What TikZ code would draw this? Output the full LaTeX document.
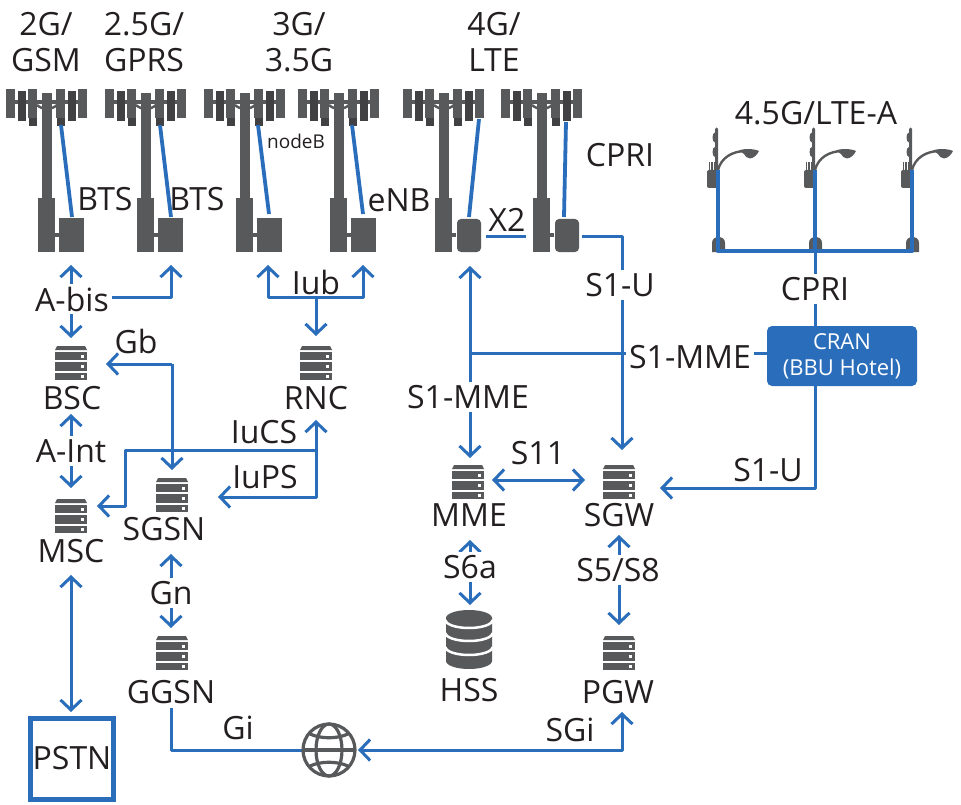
\documentclass[tikz,border=0pt]{standalone}
\usepackage{fontspec}
\setmainfont{Open Sans}
\usetikzlibrary{arrows.meta}
\definecolor{blu}{HTML}{2A6EBB}
\definecolor{gr}{HTML}{58595B}
\definecolor{dgr}{HTML}{414042}
\definecolor{txt}{HTML}{231F20}
\tikzset{
 wire/.style={draw=blu,line width=3pt,line join=round},
 tip/.style={-{Straight Barb[length=10pt,width=21pt,line width=3pt]}},
 tips/.style={{Straight Barb[length=10pt,width=21pt,line width=3pt]}-{Straight Barb[length=10pt,width=21pt,line width=3pt]}},
 tipr/.style={{Straight Barb[length=10pt,width=21pt,line width=3pt]}-},
 feeder/.style={draw=blu,line width=3.8pt},
 lab/.style={font=\fontsize{32}{32}\selectfont,text=txt,inner sep=0pt,outer sep=0pt},
 wlab/.style={lab,fill=white,inner sep=3pt},
}
\newcommand{\antenna}[2]{%
 \begin{scope}[shift={(#1,0)}]
 \fill[gr] (42,93) rectangle (52,200);
 \fill[gr] (38,198) rectangle (55,252);
 \fill[gr] (55,233) rectangle (59,237);
 \fill[gr] (15,100) rectangle (78,104);
 \draw[gr,line width=2.5pt] (37,105) .. controls (42,110) and (52,110) .. (57,105);
 \fill[dgr] (18,91) rectangle (26,121);
 \fill[dgr] (68,91) rectangle (76,121);
 \fill[dgr] (29,110) rectangle (37,126);
 \fill[dgr] (57,110) rectangle (65,126);
 \fill[gr] (6,89) rectangle (15,118);
 \fill[gr] (28,89) rectangle (37,118);
 \fill[gr] (56,89) rectangle (65,118);
 \fill[gr] (78,89) rectangle (87,118);
 #2
 \end{scope}}
\newcommand{\server}[3]{% name, x center, top y
 \begin{scope}[shift={(#2,#3)}]
 \coordinate (#1) at (0,16);
 \fill[gr] (-16,4) -- (-14,0) -- (14,0) -- (16,4) -- cycle;
 \fill[gr] (-16,5.5) rectangle (16,14);
 \fill[gr] (-16,16) rectangle (16,25);
 \fill[gr] (-16,26.5) rectangle (16,33.5);
 \foreach \yy in {10,20.5,30} \fill[white] (9.5,\yy-1.5) rectangle (12.5,\yy+1.5);
 \end{scope}}
\newcommand{\lamp}[1]{%
 \begin{scope}[shift={(#1,0)}]
 \fill[gr] (-3,129) -- (-1.5,127.5) -- (0,129) -- (0,170) -- (-3,170) -- cycle;
 \fill[gr] (-3,137.5) ellipse (2.5 and 5);
 \fill[gr] (-3,152) ellipse (2.5 and 5);
 \draw[gr,line width=1.2pt] (-8.5,170) -- (-8.5,162) (-6,170) -- (-6,162) (-3.5,170) -- (-3.5,162);
 \fill[gr,rounded corners=2pt] (-11,170) rectangle (1,188);
 \draw[gr,line width=2.4pt] (0,170) .. controls (3,158) and (14,151) .. (28,151);
 \fill[gr] (21,150.5) .. controls (25,148.5) and (36,148.5) .. (41,151) .. controls (39,155) and (36,158) .. (32,158.5) .. controls (29,158.5) and (27,156) .. (26,154) -- cycle;
 \fill[gr] (-6,252) -- (-6,243) .. controls (-6,239) and (-3,237) .. (0.5,237) .. controls (4,237) and (7,239) .. (7,243) -- (7,252) -- cycle;
 \end{scope}}
\begin{document}
\begin{tikzpicture}[x=1pt,y=-1pt]
\useasboundingbox (0,0) rectangle (961,805);
% generation labels
\node[lab,align=center] (g2) at (46,42) {2G/\\[4pt]GSM};
\node[lab,align=center] (g25) at (144,42) {2.5G/\\[4pt]GPRS};
\node[lab,align=center] (g3) at (299,42) {3G/\\[4pt]3.5G};
\node[lab,align=center] (g4) at (494,42) {4G/\\[4pt]LTE};
\node[lab] (g45) at (816,113) {4.5G/LTE-A};
% towers
\antenna{0}{\fill[gr] (59,218) rectangle (84,252);}
\antenna{99}{\fill[gr] (59,218) rectangle (84,252);}
\antenna{198}{\fill[gr] (59,218) rectangle (84,252);}
\antenna{292}{\fill[gr] (59,218) rectangle (84,252);}
\antenna{397}{\fill[gr,rounded corners=4pt] (60,219) rectangle (84,252);}
\antenna{495}{\fill[gr,rounded corners=4pt] (60,219) rectangle (84,252);}
\draw[feeder] (61,125) -- (72,217);
\draw[feeder] (160,125) -- (171,217);
\draw[feeder] (258,125) -- (269,214);
\draw[feeder] (352,125) -- (363,214);
\draw[feeder] (479,119) -- (469,217);
\draw[feeder] (566,122) -- (564,217);
% lamp posts
\lamp{718}\lamp{815}\lamp{912}
\draw[wire,line width=4.5pt] (718,170) -- (718,251) -- (912,251) -- (912,170);
\draw[wire,line width=4.5pt] (815,170) -- (815,251);
% servers
\server{bsc}{71}{346}
\server{rnc}{316}{346}
\server{msc}{71}{499}
\server{sgsn}{172}{478}
\server{mme}{468}{465}
\server{sgw}{619}{465}
\server{ggsn}{172}{636}
\server{pgw}{619}{636}
% HSS
\begin{scope}[shift={(469,0)}]
\fill[gr] (-23,618) arc[start angle=180,end angle=360,x radius=23,y radius=8] -- (23,661) arc[start angle=0,end angle=180,x radius=23,y radius=8] -- cycle;
\foreach \yy in {620,633,647}
 \draw[white,line width=2.5pt] (-23.5,\yy) arc[start angle=180,end angle=0,x radius=23.5,y radius=8];
\end{scope}
\coordinate (hss) at (469,610);
% node labels
\node[lab] (lbsc) at (72,398) {BSC};
\node[lab] (lrnc) at (316,398) {RNC};
\node[lab] (lmsc) at (71,551) {MSC};
\node[lab] (lsgsn) at (164,529) {SGSN};
\node[lab] (lmme) at (469,515) {MME};
\node[lab] (lsgw) at (619,515) {SGW};
\node[lab] (lggsn) at (171,692) {GGSN};
\node[lab] (lpgw) at (618,692) {PGW};
\node[lab] (lhss) at (469,690) {HSS};
\node[lab] (bl1) at (105,199) {BTS};
\node[lab] (bl2) at (197,199) {BTS};
\node[lab,font=\fontsize{19}{19}\selectfont] (nbl) at (296,141) {nodeB};
\node[lab] (enl) at (399,200) {eNB};
\node[lab] (cpri1) at (620,155) {CPRI};
% PSTN
\node[draw=blu,line width=5pt,lab,minimum width=83pt,minimum height=81pt,inner sep=0pt] (pstn) at (72,758.5) {PSTN};
% CRAN
\node[fill=blu,rounded corners=5pt,minimum width=150pt,minimum height=60pt,text=white,align=center,inner sep=0pt,font=\fontsize{22}{26}\selectfont] (cran) at (842,356) {CRAN\\(BBU Hotel)};
% globe
\coordinate (gc) at (329,750);
\coordinate (ggsnb) at (171,708);
\draw[wire] (ggsnb) -- (171,750) -- (303,750);
% connectors
\draw[wire,tips] (71,265) -- (71,338);
\draw[wire,tip] (72,297) -- (171,297) -- (171,265);
\node[wlab] (abis) at (72,299) {A-bis};
\draw[wire,tips] (268,265) -- (268,297) -- (363,297) -- (363,265);
\draw[wire,tip] (316,297) -- (316,336);
\node[wlab,inner sep=1pt] (iub) at (316,282) {Iub};
\draw[wire,tipr] (106,364) -- (172,364);
\draw[wire,tip] (172,364) -- (172,470);
\node[lab] (gb) at (136,341) {Gb};
\draw[wire,tips] (71,414) -- (71,488);
\node[wlab] (aint) at (71,451) {A-Int};
\draw[wire,tips] (316,420) -- (316,497) -- (218,497);
\draw[wire,tip] (316,450) -- (125,450) -- (125,506) -- (97,506);
\node[lab] (iucs) at (264,432) {IuCS};
\node[lab] (iups) at (265,477) {IuPS};
\draw[wire,tips] (171,554) -- (171,628);
\node[wlab] (gn) at (171,593) {Gn};
\draw[wire,tips] (71,575) -- (71,712);
\node[lab] (gi) at (238,728) {Gi};
\draw[wire,tips] (358,750) -- (622,750) -- (622,712);
\node[lab] (sgi) at (570,730) {SGi};
\draw[wire,tips] (470,266) -- (470,458);
\node[wlab] (s1m1) at (468,397) {S1-MME};
\draw[wire] (470,353) -- (470,353 -| cran.west);
\node[wlab] (s1m2) at (690,357) {S1-MME};
\draw[wire,tip] (582,237) -- (622,237) -- (622,450);
\node[wlab] (s1u1) at (620,285) {S1-U};
\draw[wire,tips] (492,480) -- (585,480);
\node[lab] (s11) at (538,453) {S11};
\draw[wire,tips] (470,540) -- (470,605);
\node[wlab] (s6a) at (470,567) {S6a};
\draw[wire,tips] (619,535) -- (619,625);
\node[wlab] (s5) at (618,570) {S5/S8};
\draw[wire] (815,251) -- (815,251 |- cran.north);
\node[wlab] (cpri2) at (815,289) {CPRI};
\draw[wire,tip] (815,386) -- (815,488) -- (660,488);
\node[lab] (s1u2) at (768,470) {S1-U};
\draw[wire] (486,237) -- (526,237);
\node[lab] (x2) at (507,220) {X2};
% globe drawing
\begin{scope}[shift={(gc)}]
\draw[gr,line width=3.2pt] (0,0) circle (26);
\draw[gr,line width=3.2pt] (0,0) ellipse (13 and 26);
\draw[gr,line width=3.2pt] (-26,0) -- (26,0);
\draw[gr,line width=3.2pt] (-19,-16) .. controls (-8,-11) and (8,-11) .. (19,-16);
\draw[gr,line width=3.2pt] (-19,16) .. controls (-8,11) and (8,11) .. (19,16);
\end{scope}
\end{tikzpicture}
\end{document}
